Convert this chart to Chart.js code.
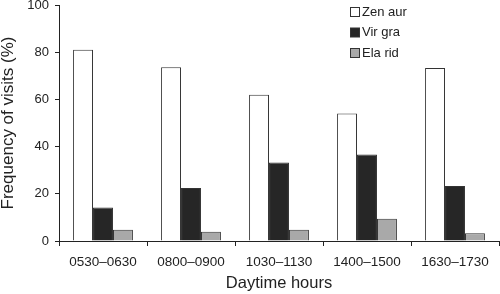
<!DOCTYPE html>
<html>
<head>
<meta charset="utf-8">
<script src="https://cdn.jsdelivr.net/npm/chart.js@4"></script>
<style>
  html, body { margin: 0; padding: 0; background: #fff; }
  #wrap { width: 500px; height: 294px; }
</style>
</head>
<body>
<div id="wrap"><canvas id="visitsChart"></canvas></div>
<script>
// Data
const hours = ['0530\u20130630', '0800\u20130900', '1030\u20131130', '1400\u20131500', '1630\u20131730'];
const zenAur = [81, 73.6, 62, 54, 73.3];
const virGra = [14.2, 22.5, 33.3, 36.6, 23.3];
const elaRid = [4.8, 3.9, 4.8, 9.4, 3.3];
const yTicks = [0, 20, 40, 60, 80, 100];

const FONT = 'Liberation Sans, Arial, Helvetica, sans-serif';
const INK = '#222';

// legend drawn as a vertical list in the top right of the plot
const stackedLegend = {
    id: 'stackedLegend',
    afterDraw(chart) {
        const ctx = chart.ctx;
        ctx.save();
        ctx.font = '13px ' + FONT;
        ctx.textBaseline = 'middle';
        chart.data.datasets.forEach((ds, i) => {
            const y = 12 + i * 20.5;
            ctx.fillStyle = ds.backgroundColor;
            ctx.fillRect(350.5, y - 4.5, 9, 9);
            ctx.strokeStyle = '#333';
            ctx.lineWidth = 1;
            ctx.strokeRect(350.5, y - 4.5, 9, 9);
            ctx.fillStyle = INK;
            ctx.fillText(ds.label, 362, y);
        });
        ctx.restore();
    }
};

const ctx = document.getElementById('visitsChart').getContext('2d');
new Chart(ctx, {
    type: 'bar',
    data: {
        labels: hours,
        datasets: [
            { label: 'Zen aur', data: zenAur, backgroundColor: '#ffffff' },
            { label: 'Vir gra', data: virGra, backgroundColor: '#262626' },
            { label: 'Ela rid', data: elaRid, backgroundColor: '#a9a9a9' }
        ]
    },
    options: {
        animation: false,
        responsive: true,
        maintainAspectRatio: false,
        devicePixelRatio: 1,
        layout: { padding: { top: 5, right: 1, left: 0, bottom: 0 } },
        datasets: {
            bar: {
                borderColor: '#333',
                borderWidth: 1,
                borderSkipped: 'bottom',
                categoryPercentage: 0.68,
                barPercentage: 1.0
            }
        },
        plugins: {
            legend: { display: false },
            tooltip: { enabled: false }
        },
        scales: {
            x: {
                grid: {
                    offset: true,
                    drawOnChartArea: false,
                    drawTicks: true,
                    tickLength: 5,
                    color: INK
                },
                border: { display: true, color: INK, width: 1 },
                ticks: { color: INK, font: { family: FONT, size: 13.5 }, padding: 8, maxRotation: 0 },
                title: {
                    display: true,
                    text: 'Daytime hours',
                    color: INK,
                    font: { family: FONT, size: 16.5 },
                    padding: { top: 2, bottom: 1 }
                },
                afterFit(scale) { scale.height = 53; }
            },
            y: {
                min: 0,
                max: 100,
                afterBuildTicks(scale) { scale.ticks = yTicks.map(v => ({ value: v })); },
                grid: {
                    drawOnChartArea: false,
                    drawTicks: true,
                    tickLength: 4,
                    color: INK
                },
                border: { display: true, color: INK, width: 1 },
                ticks: { color: INK, font: { family: FONT, size: 13 }, padding: 6 },
                title: {
                    display: true,
                    text: 'Frequency of visits (%)',
                    color: INK,
                    font: { family: FONT, size: 17 },
                    padding: { top: -2, bottom: 4 }
                },
                afterFit(scale) {
                    scale.width = 59;
                    scale.paddingTop = 0;
                    scale.paddingBottom = 0;
                }
            }
        }
    },
    plugins: [stackedLegend]
});
</script>
</body>
</html>
